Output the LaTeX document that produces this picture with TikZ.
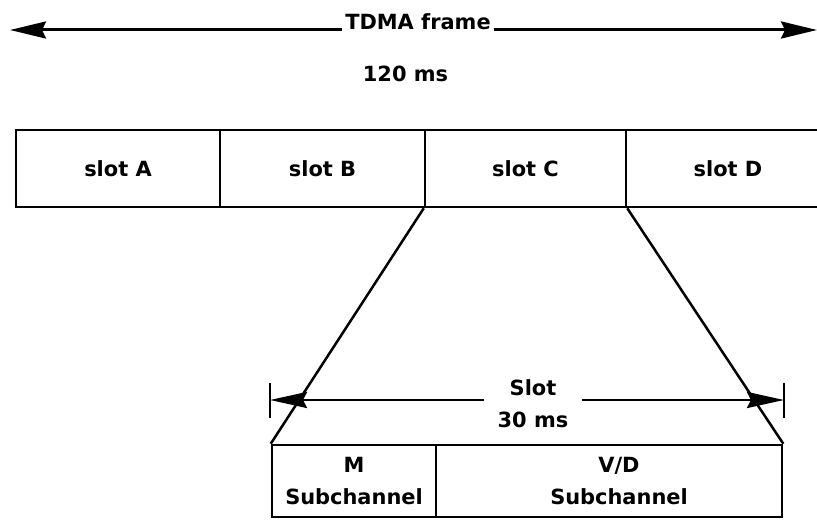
\documentclass[tikz,border=0pt]{standalone}
\usepackage{fontspec}
\setmainfont{DejaVu Sans}
\usetikzlibrary{arrows.meta}

\begin{document}
\begin{tikzpicture}[x=1bp,y=-1bp,line width=2.5bp,
    every node/.style={font=\fontsize{21}{32}\selectfont\bfseries},
    slotbox/.style={draw,minimum height=77bp,inner sep=0pt},
    subbox/.style={draw,minimum height=72bp,inner sep=0pt,align=center},
    bigtip/.style={line width=3bp,-{Stealth[length=36bp,width=17bp,inset=4bp]}},
    dimtip/.style={-{Stealth[length=37bp,width=16bp,inset=4bp]}}]
  \useasboundingbox (0,0) rectangle (817,521);
  % frame length
  \node[anchor=base,inner xsep=2bp] (title) at (418,30) {TDMA frame};
  \node[anchor=base] (period) at (405.5,82) {120 ms};
  \coordinate (frameL) at (10,28);
  \coordinate (frameR) at (817,28);
  \draw[bigtip] (title.base west) -- (title.base west -| frameL);
  \draw[bigtip] (title.base east) -- (title.base east -| frameR);
  % slots of the frame
  \node[slotbox,minimum width=204bp] (slotA) at (118,168.5) {slot A};
  \node[slotbox,minimum width=205bp] (slotB) at (322.5,168.5) {slot B};
  \node[slotbox,minimum width=201bp] (slotC) at (525.5,168.5) {slot C};
  \node[slotbox,minimum width=204bp] (slotD) at (728,168.5) {slot D};
  % one slot opened up
  \node[subbox,minimum width=164bp] (subM) at (354,481) {M\\Subchannel};
  \node[subbox,minimum width=346bp] (subVD) at (609,481) {\hspace*{20bp}V/D\\\hspace*{20bp}Subchannel};
  \draw (slotC.south west) -- (subM.north west);
  \draw (slotC.south east) -- (subVD.north east);
  % slot length
  \coordinate (dimL) at (270,400);
  \coordinate (dimR) at (784,400);
  \node[align=center,inner sep=12bp] (slotlen) at (533,404) {Slot\\30 ms};
  \draw[dimtip] (slotlen.west |- dimL) -- (dimL);
  \draw[dimtip] (slotlen.east |- dimR) -- (dimR);
  \draw (dimL) ++(0,-17) -- ++(0,35);
  \draw (dimR) ++(0,-17) -- ++(0,35);
\end{tikzpicture}
\end{document}
